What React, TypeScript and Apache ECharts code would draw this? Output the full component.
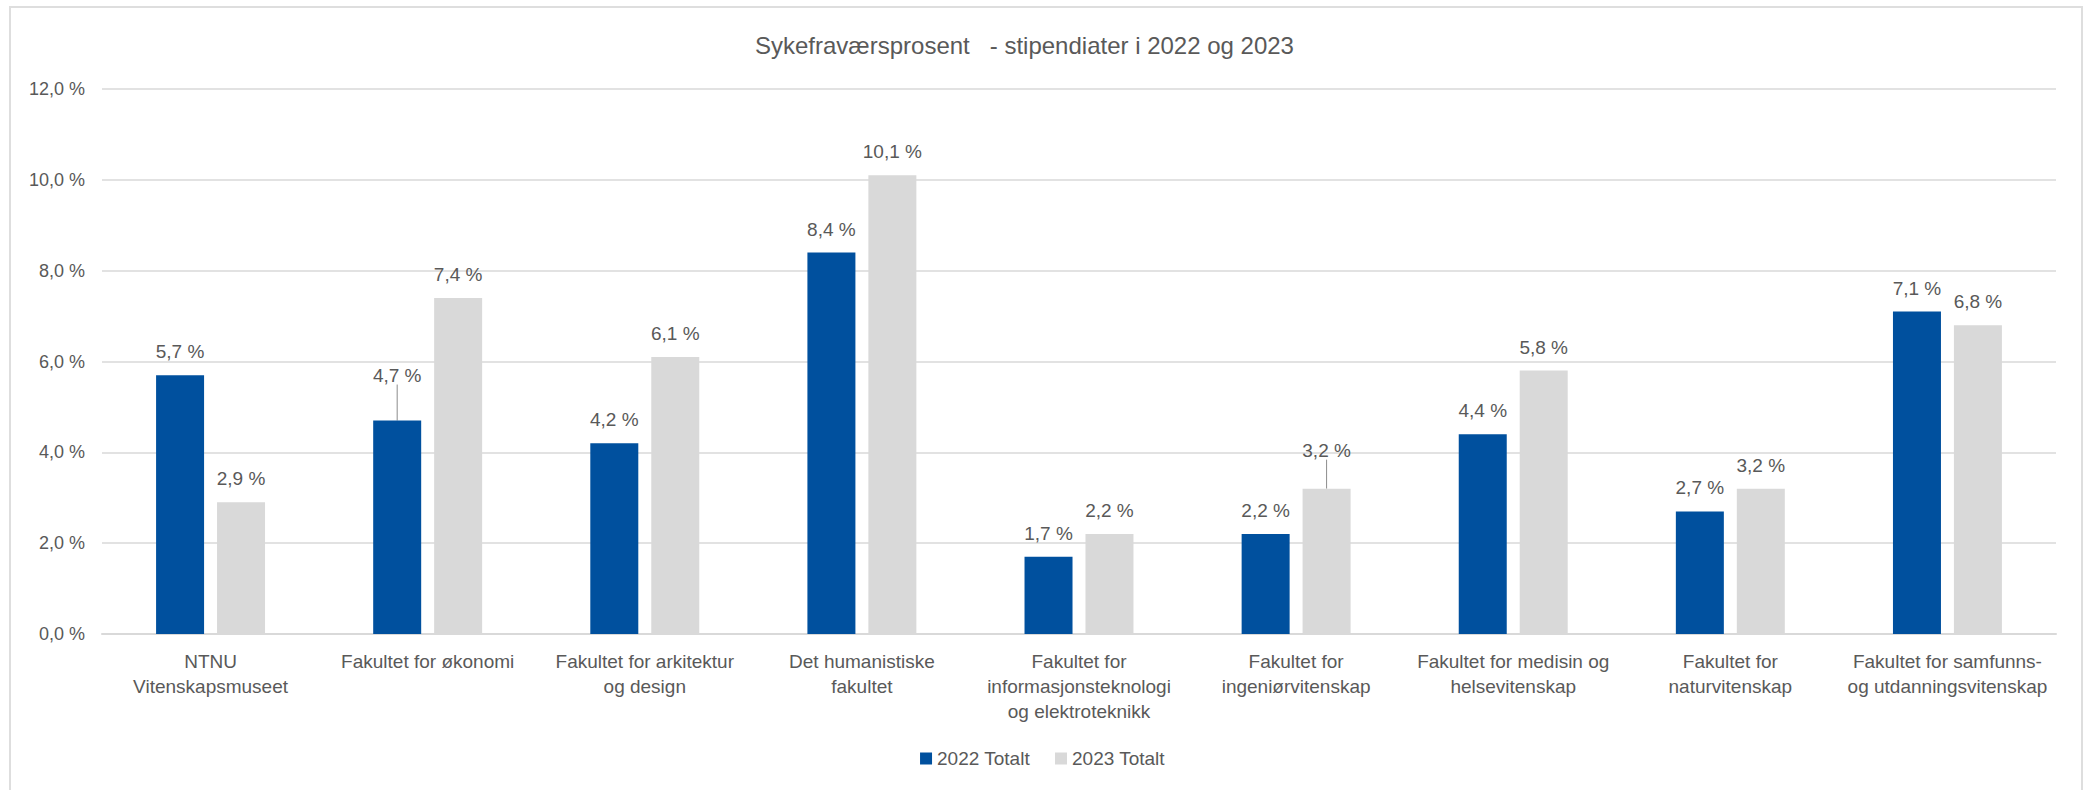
import React, { useEffect, useRef } from "react";
import * as echarts from "echarts";

const categories: string[] = [
  "NTNU\nVitenskapsmuseet",
  "Fakultet for økonomi",
  "Fakultet for arkitektur\nog design",
  "Det humanistiske\nfakultet",
  "Fakultet for\ninformasjonsteknologi\nog elektroteknikk",
  "Fakultet for\ningeniørvitenskap",
  "Fakultet for medisin og\nhelsevitenskap",
  "Fakultet for\nnaturvitenskap",
  "Fakultet for samfunns-\nog utdanningsvitenskap",
];

const seriesNames: string[] = ["2022 Totalt", "2023 Totalt"];
const values2022: number[] = [5.7, 4.7, 4.2, 8.4, 1.7, 2.2, 4.4, 2.7, 7.1];
const values2023: number[] = [2.9, 7.4, 6.1, 10.1, 2.2, 3.2, 5.8, 3.2, 6.8];

const titleText = "Sykefraværsprosent   - stipendiater i 2022 og 2023";

// labels that sit higher with a leader line: [seriesIndex, dataIndex, dy]
const raisedLabels: [number, number, number][] = [
  [0, 1, -22],
  [1, 5, -15],
];

const fmt = (v: number) => v.toFixed(1).replace(".", ",") + " %";
const FONT = "Liberation Sans, Arial, sans-serif";
const TXT = "#595959";

export default function App() {
  const ref = useRef<HTMLDivElement>(null);

  useEffect(() => {
    if (!ref.current) return;
    const chart = echarts.init(ref.current, undefined, { renderer: "svg" });

    const buildData = (vals: number[], si: number) =>
      vals.map((v, i) => {
        const r = raisedLabels.find((x) => x[0] === si && x[1] === i);
        if (r) {
          return {
            value: v,
            labelLine: { show: true, lineStyle: { color: "#8c8c8c", width: 1 } },
          };
        }
        return { value: v };
      });

    const mkLayout = (si: number) => (p: any) => {
      const r = raisedLabels.find((x) => x[0] === si && x[1] === p.dataIndex);
      return r ? { dy: r[2] } : {};
    };

    const colors = ["#00509E", "#D9D9D9"];

    chart.setOption({
      animation: false,
      backgroundColor: "#ffffff",
      textStyle: { fontFamily: FONT },
      title: {
        text: titleText,
        left: 750,
        top: 28,
        textStyle: { color: TXT, fontSize: 24, fontWeight: "normal", fontFamily: FONT },
      },
      legend: {
        bottom: 17,
        left: "center",
        icon: "rect",
        itemWidth: 12,
        itemHeight: 12,
        itemGap: 25,
        textStyle: { color: TXT, fontSize: 19, fontFamily: FONT },
        data: seriesNames,
      },
      grid: { left: 102, right: 29, top: 89, bottom: 156, containLabel: false },
      xAxis: {
        type: "category",
        data: categories,
        axisTick: { show: false },
        axisLine: { show: true, lineStyle: { color: "#d9d9d9", width: 2 } },
        axisLabel: {
          color: TXT,
          fontSize: 19,
          lineHeight: 25,
          margin: 15,
          interval: 0,
          fontFamily: FONT,
        },
      },
      yAxis: {
        type: "value",
        min: 0,
        max: 12,
        interval: 2,
        axisLine: { show: false },
        axisTick: { show: false },
        splitLine: { lineStyle: { color: "#d9d9d9", width: 1.5 } },
        axisLabel: {
          color: TXT,
          fontSize: 18,
          margin: 17,
          fontFamily: FONT,
          formatter: (v: number) => fmt(v),
        },
      },
      series: [values2022, values2023].map((vals, si) => ({
        name: seriesNames[si],
        type: "bar",
        barWidth: 48,
        barGap: "27%",
        itemStyle: { color: colors[si] },
        data: buildData(vals, si),
        label: {
          show: true,
          position: "top",
          distance: 14,
          color: TXT,
          fontSize: 19,
          fontFamily: FONT,
          formatter: (p: any) => fmt(p.value),
        },
        labelLayout: mkLayout(si),
      })),
      graphic: [
        {
          type: "rect",
          shape: { x: 10, y: 7, width: 2072, height: 800 },
          style: { fill: "none", stroke: "#dedede", lineWidth: 2 },
          silent: true,
          z: -1,
        },
      ],
    });

    return () => chart.dispose();
  }, []);

  return (
    <div
      ref={ref}
      style={{ position: "fixed", left: 0, top: 0, width: 2085, height: 790 }}
    />
  );
}
